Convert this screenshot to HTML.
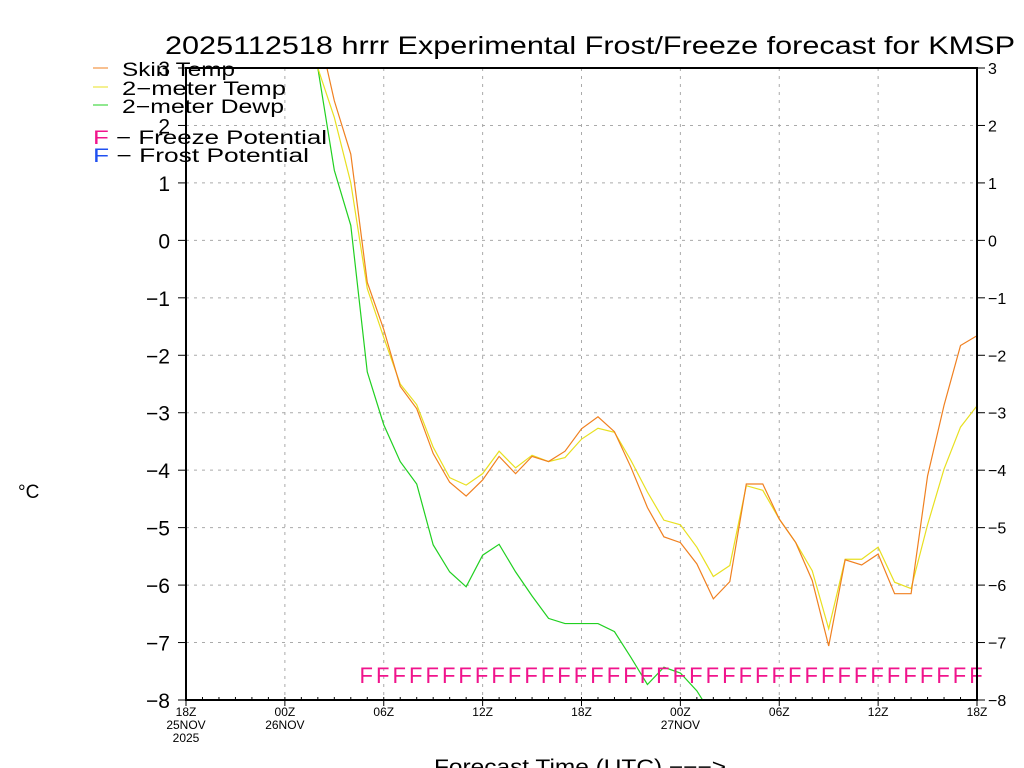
<!DOCTYPE html>
<html><head><meta charset="utf-8"><style>
html,body{margin:0;background:#fff;width:1024px;height:768px;overflow:hidden}
svg{display:block;font-family:"Liberation Sans",sans-serif;overflow:hidden}
</style></head><body>
<svg id="chart" width="1024" height="768" viewBox="0 0 1024 768" xmlns="http://www.w3.org/2000/svg">
<text x="165" y="54" font-size="25" textLength="850" lengthAdjust="spacingAndGlyphs" fill="#000">2025112518 hrrr Experimental Frost/Freeze forecast for KMSP</text>
<g id="grid"></g>
<g id="plot"></g>
<g id="axes"></g>
<g font-size="19">
 <line x1="93" y1="68" x2="108" y2="68" stroke="#f08020"/>
 <text x="122" y="76" textLength="113" lengthAdjust="spacingAndGlyphs">Skin Temp</text>
 <line x1="93" y1="87" x2="108" y2="87" stroke="#e8e020"/>
 <text x="122" y="95" textLength="164" lengthAdjust="spacingAndGlyphs">2−meter Temp</text>
 <line x1="93" y1="105" x2="108" y2="105" stroke="#20d020"/>
 <text x="122" y="113" textLength="162" lengthAdjust="spacingAndGlyphs">2−meter Dewp</text>
 <text x="93" y="144" textLength="234" lengthAdjust="spacingAndGlyphs"><tspan fill="#f0148c">F</tspan> − Freeze Potential</text>
 <text x="93" y="162" textLength="216" lengthAdjust="spacingAndGlyphs"><tspan fill="#2050f0">F</tspan> − Frost Potential</text>
</g>
<text x="18" y="498" font-size="19">°C</text>
<text x="434" y="774" font-size="21" textLength="292" lengthAdjust="spacingAndGlyphs">Forecast Time (UTC)  −−−&gt;</text>
</svg>
<script>
const hours=[7,8,9,10,11,12,13,14,15,16,17,18,19,20,21,22,23,24,25,26,27,28,29,30,31,32,33,34,35,36,37,38,39,40,41,42,43,44,45,46,47,48];
const skinTemp=[5.5,3.7,2.43,1.5,-0.73,-1.55,-2.54,-2.93,-3.71,-4.21,-4.45,-4.17,-3.76,-4.06,-3.76,-3.85,-3.67,-3.28,-3.07,-3.33,-3.95,-4.65,-5.16,-5.26,-5.63,-6.24,-5.94,-4.24,-4.24,-4.85,-5.26,-5.92,-7.06,-5.56,-5.65,-5.46,-6.15,-6.15,-4.1,-2.87,-1.83,-1.66];
const temp2m=[4.5,3.0,2.14,1.0,-0.84,-1.69,-2.5,-2.86,-3.6,-4.13,-4.26,-4.06,-3.67,-3.96,-3.74,-3.85,-3.78,-3.46,-3.27,-3.34,-3.83,-4.38,-4.87,-4.95,-5.34,-5.85,-5.66,-4.27,-4.35,-4.85,-5.26,-5.75,-6.76,-5.55,-5.55,-5.34,-5.95,-6.06,-4.95,-3.98,-3.25,-2.88];
const dewp2m=[4.0,3.0,1.22,0.26,-2.29,-3.21,-3.85,-4.24,-5.3,-5.77,-6.03,-5.48,-5.29,-5.77,-6.19,-6.58,-6.67,-6.67,-6.67,-6.81,-7.26,-7.73,-7.43,-7.53,-7.84,-8.3,-8.8,-9.3,-9.8,-10.3,-10.8,-11.3,-11.8,-12.3,-12.8,-13.3,-13.8,-14.3,-14.8,-15.3,-15.8,-16.3];
const freezeHours=[11,12,13,14,15,16,17,18,19,20,21,22,23,24,25,26,27,28,29,30,31,32,33,34,35,36,37,38,39,40,41,42,43,44,45,46,47,48];
const yTicks=[3,2,1,0,-1,-2,-3,-4,-5,-6,-7,-8];
const yTickLabels=["3","2","1","0","−1","−2","−3","−4","−5","−6","−7","−8"];
const xTickHours=[0,6,12,18,24,30,36,42,48];
const xTickLabels=[["18Z","25NOV","2025"],["00Z","26NOV"],["06Z"],["12Z"],["18Z"],["00Z","27NOV"],["06Z"],["12Z"],["18Z"]];

const X0=186,X1=977,Y0=68,Y1=700,HMAX=48,VMIN=-8,VMAX=3;
const xs=h=>X0+(X1-X0)*h/HMAX;
const ys=v=>Y0+(Y1-Y0)*(VMAX-v)/(VMAX-VMIN);
const NS="http://www.w3.org/2000/svg";
function mk(tag,attrs,parent){const e=document.createElementNS(NS,tag);for(const k in attrs)e.setAttribute(k,attrs[k]);parent.appendChild(e);return e;}
const svg=document.getElementById('chart');
const grid=document.getElementById('grid'),plot=document.getElementById('plot'),axes=document.getElementById('axes');
const defs=mk('defs',{},svg);
const cp=mk('clipPath',{id:'clip'},defs);
mk('rect',{x:X0,y:Y0,width:X1-X0,height:Y1-Y0},cp);

yTicks.forEach((v,i)=>{
  const g=mk('line',{x1:X0,x2:X1,y1:ys(v),y2:ys(v),stroke:'#aaa','stroke-dasharray':'3,5'},grid);
  
  
  const t=mk('text',{x:X0-16,y:ys(v)+8,'font-size':21,'text-anchor':'end'},axes);
  t.textContent=yTickLabels[i];
  
  
  const t2=mk('text',{x:X1+11,y:ys(v)+6,'font-size':16},axes);
  t2.textContent=yTickLabels[i];
  
  
  const tk=mk('line',{x1:X0-8,x2:X0,y1:ys(v),y2:ys(v),stroke:'#000'},axes);
  
  
  const tk2=mk('line',{x1:X1,x2:X1+8,y1:ys(v),y2:ys(v),stroke:'#000'},axes);
  
  
});
xTickHours.forEach((h,i)=>{
  const g=mk('line',{x1:xs(h),x2:xs(h),y1:Y0,y2:Y1,stroke:'#aaa','stroke-dasharray':'3,5'},grid);
  
  
  xTickLabels[i].forEach((s,j)=>{
    const t=mk('text',{x:xs(h),y:Y1+16+j*13,'font-size':12,'text-anchor':'middle'},axes);
    t.textContent=s;
    
    
  });
});
for(let h=0;h<=HMAX;h++){
  const tk=mk('line',{x1:xs(h),x2:xs(h),y1:Y1-3,y2:Y1+(h%6?0:6),stroke:'#000'},axes);
  
  
}
const frame=mk('rect',{x:X0,y:Y0,width:X1-X0,height:Y1-Y0,fill:'none',stroke:'#000','stroke-width':2},axes);



function series(vals,color,name){
  const pts=hours.map((h,i)=>xs(h)+','+ys(vals[i])).join(' ');
  const p=mk('polyline',{points:pts,fill:'none',stroke:color,'stroke-width':1.2,'clip-path':'url(#clip)'},plot);
  
  
}
series(dewp2m,'#20d020','dewpoint-line');
series(temp2m,'#e8e020','2m-temp-line');
series(skinTemp,'#f08020','skin-temp-line');
freezeHours.forEach(h=>{
  const t=mk('text',{x:xs(h)-1,y:683,'font-size':22,'text-anchor':'middle',fill:'#f0148c'},plot);
  t.textContent='F';
  
  
});
</script>
</body></html>
